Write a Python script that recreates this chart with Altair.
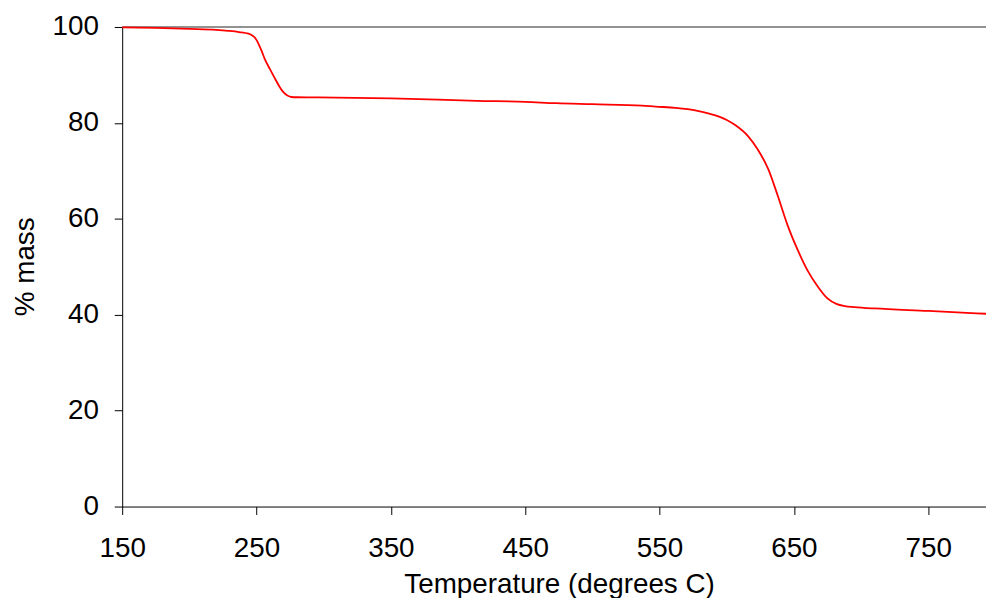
import altair as alt
import pandas as pd

# Thermogravimetric curve
temperature = [150, 175, 200, 220, 229, 237, 244, 246.5, 249, 251.3, 253.8, 256, 260, 264, 267, 270,
               273, 276, 280, 296, 350, 414, 450, 473, 500, 537, 547, 562, 571, 580,
               591, 600, 606, 616, 623, 631, 638, 645, 653, 660, 668, 675, 682, 688,
               695, 710, 750, 793]
mass = [99.9, 99.8, 99.6, 99.4, 99.2, 98.95, 98.6, 98.3, 97.7, 96.6, 95.0, 93.4, 91.2, 89.1, 87.6, 86.4,
        85.7, 85.4, 85.35, 85.3, 85.1, 84.6, 84.4, 84.1, 83.9, 83.6, 83.4, 83.15, 82.85, 82.4,
        81.6, 80.6, 79.6, 77.2, 74.5, 70.3, 64.8, 58.9, 53.4, 49.3, 45.8, 43.4, 42.2, 41.8,
        41.6, 41.3, 40.8, 40.2]

x_ticks = [150, 250, 350, 450, 550, 650, 750]
y_ticks = [0, 20, 40, 60, 80, 100]
top_value = [100]

df = pd.DataFrame({"T": temperature, "mass": mass})
top_df = pd.DataFrame({"y": top_value})

FONT = "Liberation Sans"

x_enc = alt.X(
    "T:Q",
    scale=alt.Scale(domain=[150, 793], nice=False, zero=False),
    axis=alt.Axis(
        title="Temperature (degrees C)",
        values=x_ticks,
        grid=False,
        tickSize=8,
        labelPadding=20,
        labelFontSize=28,
        labelFont=FONT,
        labelColor="black",
        titleFont=FONT,
        titleFontSize=28,
        titleFontWeight="normal",
        titleColor="black",
        titleX=440,
        titleY=87,
        titleBaseline="alphabetic",
        titleAlign="center",
        domainColor="black",
        tickColor="black",
        labelFlush=False,
        labelOverlap=False,
    ),
)

y_enc = alt.Y(
    "mass:Q",
    scale=alt.Scale(domain=[0, 100], nice=False),
    axis=alt.Axis(
        title="% mass",
        values=y_ticks,
        grid=False,
        tickSize=8,
        labelPadding=16,
        labelFontSize=28,
        labelFont=FONT,
        labelColor="black",
        titleFont=FONT,
        titleFontSize=28,
        titleFontWeight="normal",
        titleColor="black",
        titleX=-89,
        titleY=241,
        titleAngle=270,
        titleBaseline="alphabetic",
        titleAlign="center",
        domainColor="black",
        tickColor="black",
        labelFlush=False,
        labelOverlap=False,
    ),
)

line = alt.Chart(df).mark_line(color="#FF0000", strokeWidth=1.8, interpolate="monotone").encode(
    x=x_enc, y=y_enc
)

top_rule = alt.Chart(top_df).mark_rule(color="#6e6e6e", strokeWidth=1.5).encode(
    y=alt.Y("y:Q", scale=alt.Scale(domain=[0, 100], nice=False))
)

chart = (
    alt.layer(top_rule, line)
    .properties(
        width=870,
        height=483,
        autosize=alt.AutoSizeParams(type="none"),
        padding={"left": 115, "top": 17, "right": 0, "bottom": 90},
        background="white",
    )
    .configure_view(stroke=None)
)

chart.save("out.html", embed_options={"renderer": "svg", "actions": False})
